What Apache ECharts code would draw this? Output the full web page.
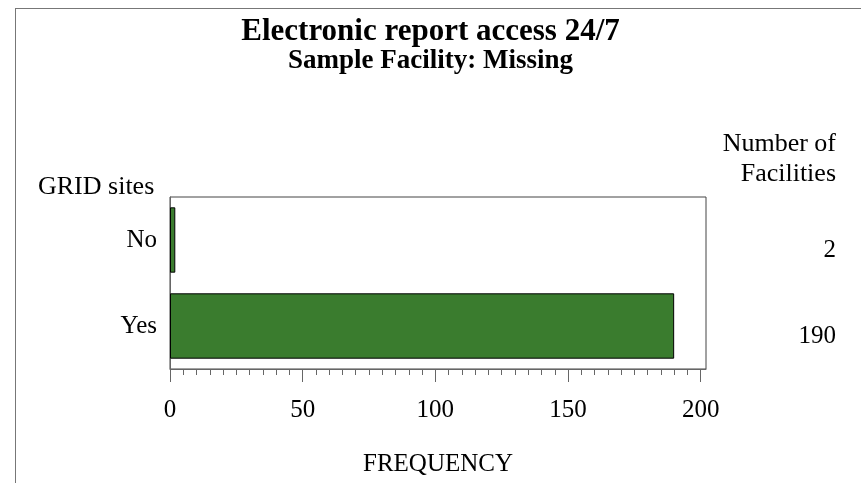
<!DOCTYPE html>
<html>
<head>
<meta charset="utf-8">
<script src="https://cdn.jsdelivr.net/npm/echarts@6/dist/echarts.min.js"></script>
<style>
    html, body { margin: 0; padding: 0; background: #fff; }
    #wrap { position: relative; width: 861px; height: 483px; overflow: hidden; }
    #chart { position: absolute; left: 0; top: 0; width: 861px; height: 483px; }
    #frame { position: absolute; left: 15px; top: 8px; width: 900px; height: 600px;
             border: 1px solid #777; pointer-events: none; }
</style>
</head>
<body>
<div id="wrap">
    <div id="chart"></div>
    <div id="frame"></div>
</div>
<script>
const categories = ['No', 'Yes'];
const frequency = [2, 190];
const facilityCounts = ['2', '190'];
const majorTicks = [0, 50, 100, 150, 200];
const minorTicks = [5, 10, 15, 20, 25, 30, 35, 40, 45, 55, 60, 65, 70, 75, 80, 85, 90, 95,
    105, 110, 115, 120, 125, 130, 135, 140, 145, 155, 160, 165, 170, 175, 180, 185, 190, 195];

const FONT = 'Liberation Serif';
const axisGray = '#666';

const elem = document.getElementById('chart');
const myChart = echarts.init(elem, null, { renderer: 'canvas' });

const textBase = { fontFamily: FONT, color: '#000', fontWeight: 'normal' };

myChart.setOption({
    animation: false,
    backgroundColor: 'transparent',
    title: [
        { text: 'Electronic report access 24/7', left: 'center', top: 16, padding: 0,
          textStyle: { fontFamily: FONT, color: '#000', fontWeight: 'bold', fontSize: 31 } },
        { text: 'Sample Facility: Missing', left: 'center', top: 48, padding: 0,
          textStyle: { fontFamily: FONT, color: '#000', fontWeight: 'bold', fontSize: 27 } },
        { text: 'GRID sites', left: 38, top: 174, padding: 0,
          textStyle: Object.assign({ fontSize: 26 }, textBase) },
        { text: 'Number of', right: 25, top: 131, padding: 0,
          textStyle: Object.assign({ fontSize: 26 }, textBase) },
        { text: 'Facilities', right: 25, top: 161, padding: 0,
          textStyle: Object.assign({ fontSize: 26 }, textBase) }
    ],
    grid: {
        left: 170, right: 155, top: 197, bottom: 114,
        show: true, borderColor: '#444', borderWidth: 1, backgroundColor: 'transparent'
    },
    xAxis: [
        {
            type: 'value', min: 0, max: 202, position: 'bottom',
            axisLine: { show: true, lineStyle: { color: axisGray, width: 1 } },
            axisTick: { show: true, customValues: minorTicks, length: 6, lineStyle: { color: axisGray } },
            axisLabel: { show: false },
            splitLine: { show: false }
        },
        {
            type: 'value', min: 0, max: 202, position: 'bottom',
            axisLine: { show: false },
            axisTick: { show: true, customValues: majorTicks, length: 13, lineStyle: { color: axisGray } },
            axisLabel: Object.assign({ customValues: majorTicks, margin: 29, fontSize: 25 }, textBase),
            splitLine: { show: false },
            name: 'FREQUENCY', nameLocation: 'middle', nameGap: 83,
            nameTextStyle: Object.assign({ fontSize: 25 }, textBase)
        }
    ],
    yAxis: [
        {
            type: 'category', data: categories, inverse: true, position: 'left',
            axisLine: { show: true, lineStyle: { color: axisGray, width: 1 } },
            axisTick: { show: false },
            axisLabel: Object.assign({ margin: 13, fontSize: 25 }, textBase)
        },
        {
            type: 'category', data: facilityCounts, inverse: true, position: 'right',
            axisLine: { show: false },
            axisTick: { show: false },
            axisLabel: Object.assign({ margin: 130, align: 'right', verticalAlign: 'top',
                fontSize: 25, lineHeight: 20 }, textBase)
        }
    ],
    series: [{
        type: 'bar',
        data: frequency,
        xAxisIndex: 0,
        yAxisIndex: 0,
        barCategoryGap: '24%',
        itemStyle: { color: '#3a7c2e', borderColor: '#000', borderWidth: 1 },
        silent: true
    }]
});

window.addEventListener('resize', function () {
    myChart.resize();
});
</script>
</body>
</html>
